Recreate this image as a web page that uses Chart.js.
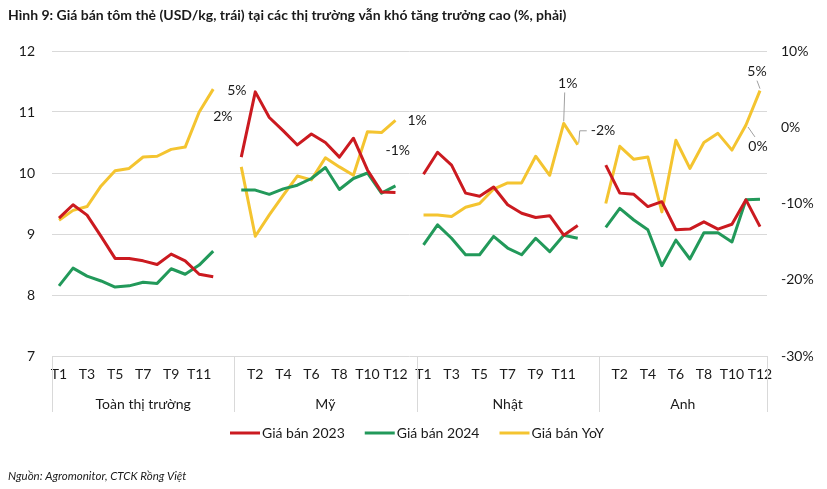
<!DOCTYPE html>
<html>
<head>
<meta charset="utf-8">
<script src="https://cdn.jsdelivr.net/npm/chart.js@4.4.1/dist/chart.umd.min.js"></script>
<style>
  html, body { margin: 0; padding: 0; background: #fff; }
</style>
</head>
<body>
<canvas id="myChart" width="827" height="489"></canvas>
<script>
const months = ["T1", "T2", "T3", "T4", "T5", "T6", "T7", "T8", "T9", "T10", "T11", "T12"];
const markets = ["Toàn thị trường", "Mỹ", "Nhật", "Anh"];

// Giá bán 2023 (USD/kg, trục trái)
const price2023Total = [9.26, 9.48, 9.31, 8.96, 8.60, 8.60, 8.56, 8.50, 8.67, 8.56, 8.34, 8.30];
const price2023US    = [10.26, 11.33, 10.91, 10.69, 10.46, 10.64, 10.50, 10.26, 10.57, 10.05, 9.69, 9.68];
const price2023JP    = [9.98, 10.34, 10.13, 9.67, 9.62, 9.77, 9.48, 9.34, 9.27, 9.30, 8.98, 9.14];
const price2023UK    = [10.13, 9.67, 9.65, 9.45, 9.53, 9.07, 9.08, 9.20, 9.08, 9.16, 9.56, 9.12];

// Giá bán 2024 (USD/kg, trục trái)
const price2024Total = [8.15, 8.44, 8.31, 8.23, 8.13, 8.15, 8.21, 8.19, 8.43, 8.34, 8.49, 8.72];
const price2024US    = [9.72, 9.72, 9.65, 9.74, 9.80, 9.91, 10.09, 9.73, 9.91, 10.00, 9.67, 9.79];
const price2024JP    = [8.82, 9.15, 8.93, 8.66, 8.66, 8.96, 8.77, 8.66, 8.93, 8.71, 8.98, 8.93];
const price2024UK    = [9.11, 9.42, 9.23, 9.07, 8.48, 8.90, 8.59, 9.02, 9.02, 8.87, 9.56, 9.57];

// Giá bán YoY (%, trục phải)
const yoyTotal = [-12.2, -10.9, -10.4, -7.7, -5.7, -5.4, -3.9, -3.8, -2.9, -2.6, 2.0, 5.0];
const yoyUS    = [-5.2, -14.3, -11.5, -8.9, -6.4, -6.9, -4.0, -5.2, -6.3, -0.6, -0.7, 0.9];
const yoyJP    = [-11.5, -11.5, -11.7, -10.5, -10.0, -8.1, -7.3, -7.3, -3.8, -6.3, 0.5, -2.3];
const yoyUK    = [-10.0, -2.5, -4.2, -3.9, -11.1, -1.7, -5.4, -2.0, -0.8, -3.0, 0.3, 4.8];

const leftTicks = [7, 8, 9, 10, 11, 12];
const rightTicks = [-30, -20, -10, 0, 10];

const red = "#CB1A20";
const green = "#22995A";
const yellow = "#F4C430";
const textColor = "#1a1a1a";
const gridColor = "#D9D9D9";
const fontFamily = "Lato, 'Open Sans', sans-serif";

// join the four markets onto one category axis, with an empty slot between them
function joinGroups(parts) {
    const out = [];
    parts.forEach((p, i) => {
        out.push(...p);
        if (i < parts.length - 1) out.push(null);
    });
    return out;
}

const labels = joinGroups(markets.map(() => months)).map(v => v === null ? "" : v);
const groupStarts = [];
{
    let s = 0;
    markets.forEach(() => { groupStarts.push(s); s += months.length + 1; });
}

// which yoy points carry a value label: [market, month index, dx, dy, align, leader]
const yoyLabels = [
    [0, 11, 14, 1, "left", null],
    [0, 10, 14, 4, "left", null],
    [1, 11, 12, 0, "left", null],
    [1, 10, 4, 18, "left", null],
    [2, 10, 4, -40, "center", [[1, -31], [0, -2]]],
    [2, 11, 13, -14, "left", [[1, -2], [2, -14], [9, -14]]],
    [3, 11, -3, -19, "center", [[-3, -10], [0, -2]]],
    [3, 10, 12, 22, "center", [[2, 2], [9, 12]]]
];
const yoySeries = [yoyTotal, yoyUS, yoyJP, yoyUK];

const decorPlugin = {
    id: "decor",
    afterDraw(chart) {
        const ctx = chart.ctx;
        const xs = chart.scales.x;
        const area = chart.chartArea;
        const step = xs.getPixelForValue(1) - xs.getPixelForValue(0);
        ctx.save();

        // title
        ctx.fillStyle = textColor;
        ctx.font = "bold 14px " + fontFamily;
        ctx.textBaseline = "middle";
        ctx.textAlign = "left";
        ctx.fillText("Hình 9: Giá bán tôm thẻ (USD/kg, trái) tại các thị trường vẫn khó tăng trưởng cao (%, phải)", 8, 15);

        // group separators and market names
        const bounds = groupStarts.map(s => xs.getPixelForValue(s) - step / 2);
        bounds.push(area.right);
        ctx.strokeStyle = gridColor;
        ctx.lineWidth = 1;
        bounds.forEach(b => {
            const x = Math.round(b) + 0.5;
            ctx.beginPath();
            ctx.moveTo(x, area.bottom);
            ctx.lineTo(x, area.bottom + 56);
            ctx.stroke();
        });
        ctx.font = "14px " + fontFamily;
        ctx.textAlign = "center";
        markets.forEach((name, i) => {
            ctx.fillText(name, (bounds[i] + bounds[i + 1]) / 2, area.bottom + 48);
        });

        // yoy value labels
        const meta = chart.getDatasetMeta(2);
        ctx.font = "14px " + fontFamily;
        yoyLabels.forEach(([m, k, dx, dy, align, leader]) => {
            const pt = meta.data[groupStarts[m] + k];
            if (!pt) return;
            if (leader) {
                ctx.strokeStyle = "#A0A0A0";
                ctx.lineWidth = 1;
                ctx.beginPath();
                leader.forEach(([lx, ly], j) => {
                    if (j === 0) ctx.moveTo(pt.x + lx, pt.y + ly);
                    else ctx.lineTo(pt.x + lx, pt.y + ly);
                });
                ctx.stroke();
            }
            ctx.fillStyle = textColor;
            ctx.textAlign = align;
            ctx.fillText(Math.round(yoySeries[m][k]) + "%", pt.x + dx, pt.y + dy);
        });

        // legend
        const items = [["Giá bán 2023", red], ["Giá bán 2024", green], ["Giá bán YoY", yellow]];
        let lx = 230;
        const ly = 433;
        ctx.textAlign = "left";
        items.forEach(([text, color]) => {
            ctx.strokeStyle = color;
            ctx.lineWidth = 3;
            ctx.beginPath();
            ctx.moveTo(lx, ly);
            ctx.lineTo(lx + 30, ly);
            ctx.stroke();
            ctx.fillStyle = textColor;
            ctx.fillText(text, lx + 32, ly);
            lx += 32 + ctx.measureText(text).width + 20;
        });

        // source
        ctx.font = "italic 11.5px " + fontFamily;
        ctx.fillText("Nguồn: Agromonitor, CTCK Rồng Việt", 8, 476);
        ctx.restore();
    }
};

const ctx = document.getElementById("myChart").getContext("2d");
const myChart = new Chart(ctx, {
    type: "line",
    data: {
        labels: labels,
        datasets: [
            {
                label: "Giá bán 2023",
                data: joinGroups([price2023Total, price2023US, price2023JP, price2023UK]),
                borderColor: red,
                yAxisID: "y"
            },
            {
                label: "Giá bán 2024",
                data: joinGroups([price2024Total, price2024US, price2024JP, price2024UK]),
                borderColor: green,
                yAxisID: "y"
            },
            {
                label: "Giá bán YoY",
                data: joinGroups(yoySeries),
                borderColor: yellow,
                yAxisID: "y1"
            }
        ]
    },
    options: {
        responsive: false,
        animation: false,
        spanGaps: false,
        elements: {
            line: { borderWidth: 3, tension: 0, borderJoinStyle: "round", borderCapStyle: "butt" },
            point: { radius: 0, hoverRadius: 0 }
        },
        layout: { padding: { top: 51, left: 0, right: 0, bottom: 0 } },
        plugins: {
            legend: { display: false },
            tooltip: { enabled: false }
        },
        scales: {
            x: {
                type: "category",
                offset: true,
                grid: { display: false, drawTicks: false },
                border: { display: false },
                ticks: {
                    autoSkip: false,
                    maxRotation: 0,
                    padding: 10,
                    color: textColor,
                    font: { family: fontFamily, size: 14 },
                    callback: (v, i) => i % 2 === 0 ? labels[i] : ""
                },
                afterFit: s => { s.height = 133; }
            },
            y: {
                position: "left",
                min: leftTicks[0],
                max: leftTicks[leftTicks.length - 1],
                afterBuildTicks: s => { s.ticks = leftTicks.map(v => ({ value: v })); },
                grid: { color: gridColor, drawTicks: false },
                border: { display: false },
                ticks: { padding: 17, color: textColor, font: { family: fontFamily, size: 14 } },
                afterFit: s => { s.width = 52; }
            },
            y1: {
                position: "right",
                min: rightTicks[0],
                max: rightTicks[rightTicks.length - 1],
                afterBuildTicks: s => { s.ticks = rightTicks.map(v => ({ value: v })); },
                grid: { display: false, drawTicks: false },
                border: { display: false },
                ticks: {
                    padding: 14,
                    color: textColor,
                    font: { family: fontFamily, size: 14 },
                    callback: v => v + "%"
                },
                afterFit: s => { s.width = 60; }
            }
        }
    },
    plugins: [decorPlugin]
});
</script>
</body>
</html>
